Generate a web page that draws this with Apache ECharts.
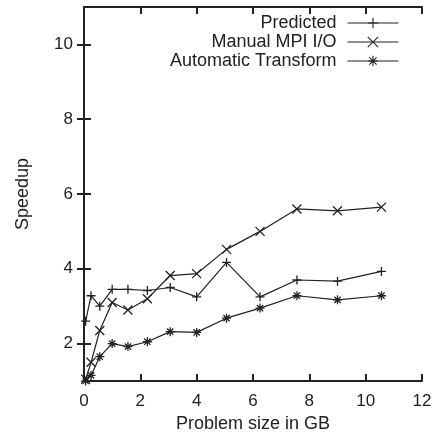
<!DOCTYPE html>
<html><head><meta charset="utf-8">
<script src="https://cdn.jsdelivr.net/npm/echarts@6/dist/echarts.min.js"></script>
<style>html,body{margin:0;padding:0;background:#fff}#c{width:441px;height:440px}</style>
</head><body><div id="c"></div>
<script>
const sizes = [0.06, 0.25, 0.56, 1, 1.56, 2.25, 3.06, 4, 5.06, 6.25, 7.56, 9, 10.56];
const predicted = [2.6, 3.28, 3.0, 3.45, 3.45, 3.42, 3.5, 3.25, 4.17, 3.25, 3.7, 3.67, 3.93];
const manual = [1.05, 1.5, 2.35, 3.1, 2.9, 3.2, 3.82, 3.87, 4.52, 5.0, 5.6, 5.55, 5.65];
const automatic = [1.0, 1.15, 1.65, 2.0, 1.92, 2.05, 2.32, 2.3, 2.68, 2.95, 3.28, 3.17, 3.28];
const seriesNames = ['Predicted', 'Manual MPI I/O', 'Automatic Transform'];
const xTicks = [0, 2, 4, 6, 8, 10, 12];
const yTicks = [2, 4, 6, 8, 10];

const FONT = 'Liberation Sans';
const INK = '#222';
const symbols = [
  'path://M0,5L10,5M5,0L5,10',
  'path://M0,0L10,10M10,0L0,10',
  'path://M0,5L10,5M5,0L5,10M1.5,1.5L8.5,8.5M8.5,1.5L1.5,8.5'
];
const pair = arr => sizes.map((x, i) => [x, arr[i]]);
const allData = [predicted, manual, automatic];

const axisLineStyle = {show: true, lineStyle: {color: INK, width: 2}};
const tickStyle = {show: true, inside: true, length: 7, lineStyle: {color: INK, width: 2}};

const chart = echarts.init(document.getElementById('c'), null, {renderer: 'canvas'});
chart.setOption({
  animation: false,
  backgroundColor: '#fff',
  textStyle: {fontFamily: FONT},
  grid: {left: 84, right: 19, top: 7, bottom: 59},
  legend: {
    orient: 'vertical', align: 'right', right: 37, top: 9,
    itemWidth: 51, itemHeight: 13, itemGap: 1,
    itemStyle: {borderWidth: 1.1},
    lineStyle: {width: 1.1},
    textStyle: {fontFamily: FONT, fontSize: 18, color: INK, padding: [0, 6, 0, 0]},
    data: seriesNames
  },
  xAxis: [{
    type: 'value', min: 0, max: 12, interval: 2,
    name: 'Problem size in GB', nameLocation: 'middle', nameGap: 28,
    nameTextStyle: {fontFamily: FONT, fontSize: 18, color: INK},
    axisLine: axisLineStyle,
    axisTick: Object.assign({customValues: xTicks}, tickStyle),
    axisLabel: {customValues: xTicks, fontFamily: FONT, fontSize: 17, color: INK, margin: 12},
    splitLine: {show: false}
  }, {
    type: 'value', min: 0, max: 12, interval: 2, position: 'top',
    axisLine: axisLineStyle,
    axisTick: Object.assign({customValues: xTicks}, tickStyle),
    axisLabel: {show: false}, splitLine: {show: false}
  }],
  yAxis: [{
    type: 'value', min: 1, max: 11,
    name: 'Speedup', nameLocation: 'middle', nameGap: 52, nameRotate: 90,
    nameTextStyle: {fontFamily: FONT, fontSize: 18, color: INK},
    axisLine: axisLineStyle,
    axisTick: Object.assign({customValues: yTicks}, tickStyle),
    axisLabel: {customValues: yTicks, fontFamily: FONT, fontSize: 17, color: INK, margin: 11},
    splitLine: {show: false}
  }, {
    type: 'value', min: 1, max: 11, position: 'right',
    axisLine: axisLineStyle,
    axisTick: Object.assign({customValues: yTicks}, tickStyle),
    axisLabel: {show: false}, splitLine: {show: false}
  }],
  series: seriesNames.map((name, i) => ({
    name: name, type: 'line', xAxisIndex: 0, yAxisIndex: 0,
    data: pair(allData[i]),
    symbol: symbols[i], symbolSize: 9, showAllSymbol: true,
    lineStyle: {color: INK, width: 1.2},
    itemStyle: {color: 'rgba(0,0,0,0)', borderColor: INK, borderWidth: 1.3},
    emphasis: {disabled: true}
  }))
});
</script></body></html>
